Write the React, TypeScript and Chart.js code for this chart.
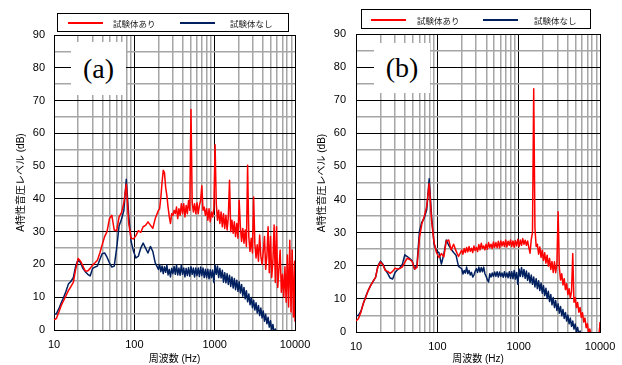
import { useEffect, useRef } from 'react';
import { Chart, registerables } from 'chart.js';

Chart.register(...registerables);

// ---------- frequency bins (Hz) ----------
const FREQ_LOW = [
  10, 10.7, 11.5, 12.3, 13.2, 14.1, 15.1, 16.2, 17.4, 18.6,
  20, 21.4, 22.9, 24.5, 26.3, 28.2, 30.2, 32.4, 34.7, 37.2,
  39.8, 42.7, 45.7, 49, 52.5, 56.2, 60.3, 64.6, 69.2, 74.1,
  79.4, 85.1, 91.2, 97.7, 104.7, 112.2, 120.2, 128.8, 138, 147.9,
  158.5, 169.8, 182,
];
const FREQ_HIGH = [
  199.5, 206.5, 213.8, 221.3, 229.1, 237.1, 245.5, 254.1, 263, 272.3,
  281.8, 291.7, 302, 312.6, 323.6, 335, 346.7, 358.9, 371.5, 384.6,
  398.1, 412.1, 426.6, 441.6, 457.1, 473.2, 489.8, 507, 524.8, 543.3,
  562.3, 582.1, 602.6, 623.7, 645.7, 668.3, 691.8, 716.1, 741.3, 767.4,
  794.3, 822.2, 851.1, 881, 912, 944, 977.2, 1012, 1047, 1084,
  1122, 1161, 1202, 1245, 1288, 1334, 1380, 1429, 1479, 1531,
  1585, 1641, 1698, 1758, 1820, 1884, 1950, 2018, 2089, 2163,
  2239, 2317, 2399, 2483, 2570, 2661, 2754, 2851, 2951, 3055,
  3162, 3273, 3388, 3508, 3631, 3758, 3890, 4027, 4169, 4315,
  4467, 4624, 4786, 4955, 5129, 5309, 5495, 5689, 5888, 6095,
  6310, 6531, 6761, 6998, 7244, 7499, 7762, 8035, 8318, 8610,
  8913, 9226, 9550, 9886, 10000,
];

// ---------- (a) ----------
const A_RED_LOW = [
  3.1, 3.5, 5.5, 7.5, 9, 10.5, 12, 13.2, 14.5, 18.5,
  21.8, 21, 19.5, 18, 18, 18.8, 19.8, 20.5, 21.3, 23.5,
  26, 28.5, 30, 34, 35, 30.5, 30.3, 34.5, 35.8, 38.8,
  44.5, 32.5, 28, 27.8, 28.8, 30.3, 29.8, 31.5, 31.9, 33,
  32, 31, 34,
];
const A_RED_HIGH = [
  36.5, 37, 40.5, 45, 48.7, 48, 43.5, 41, 37.5, 34.5,
  32.5, 35.5, 35, 36.5, 35.5, 37.5, 34, 37, 35, 38.5,
  35.5, 38.5, 34.5, 38, 35.5, 39.5, 36.5, 67.3, 39, 36,
  38.5, 35.5, 38.8, 35.5, 38, 39.5, 44, 36.5, 37.5, 35,
  37, 33.5, 37, 33, 36, 34.5, 37, 56.5, 38.5, 33.5,
  36.5, 32.5, 36, 31.5, 35.5, 31, 35, 30.5, 34.5, 45.7,
  30, 33.5, 29.5, 33, 28.5, 32.5, 28, 39.6, 31.5, 27,
  31, 26.5, 30.5, 25.5, 50.3, 28.5, 24, 28, 23.5, 40.6,
  26.5, 22, 26, 21, 29, 22.5, 20, 24, 28.5, 18.5,
  22.5, 31.5, 17.5, 28.5, 16, 21, 32, 14.5, 31.5, 13,
  18.5, 24.4, 11.5, 17, 10, 19.3, 8.5, 22.9, 7, 27.4,
  5.5, 24.4, 4, 21, 2.5,
];
const A_NAVY_LOW = [
  4.9, 4.9, 6.5, 8.3, 10, 11.8, 14, 14.8, 16, 19.5,
  21.5, 20.5, 18.8, 17.8, 17, 16.5, 18.8, 19.2, 19.5, 21.5,
  23.3, 23.5, 22.2, 20.5, 19.2, 19.5, 25, 31.8, 33.8, 36.5,
  46, 35, 27, 24, 22, 22.5, 25, 26.5, 25, 23.5,
  25.5, 24, 20.5,
];
const A_NAVY_HIGH = [
  18.5, 20, 17.8, 19.5, 17.2, 19.3, 17.6, 19.8, 16.8, 18.5,
  16.2, 18.8, 17.2, 19.4, 17, 19.8, 16.8, 18.9, 16.7, 19.8,
  17, 18.9, 16.2, 18.8, 16.6, 19, 16.4, 19.3, 17, 18.9,
  16.2, 18.9, 16.6, 18.9, 16.3, 19.2, 16.6, 18.9, 16, 18.5,
  16, 18.5, 15.6, 18.4, 16, 18.3, 14.5, 19.8, 17, 19.5,
  16, 18.8, 15.9, 18.2, 14.6, 17.5, 14.4, 17.2, 13.9, 16.7,
  13.3, 16.2, 12.8, 15.7, 12.3, 15.2, 11.8, 14.7, 11.3, 13.9,
  10.3, 13, 9.5, 12, 8.6, 11, 7.7, 9.9, 6.8, 9.1,
  6.1, 8.3, 5.2, 7.5, 4.4, 6.7, 3.7, 5.8, 2.7, 4.8,
  1.9, 3.9, 0.9, 2.8, 0, 1.7, -1, 0.3, -2, -3,
  -4, -5, -6, -7, -8, -9, -10, -10, -10, -10,
  -10, -10, -10, -10, -10,
];

// ---------- (b) ----------
const B_RED_LOW = [
  3.3, 4, 6, 8.6, 10.5, 12.5, 14, 15.3, 16.5, 19.8,
  21.1, 20.3, 18.6, 18.3, 17.7, 18.3, 19.3, 19, 19.2, 19.7,
  21, 22.3, 21.9, 21.3, 19, 19.5, 28.5, 32.7, 35, 38,
  44.8, 33.5, 27, 24, 22.5, 23.7, 22.7, 27.5, 27.8, 24.8,
  26.5, 24.5, 22.8,
];
const B_RED_HIGH = [
  24.7, 23.5, 25.2, 24, 25.5, 24.2, 25.8, 24.4, 25.3, 24,
  26, 24.6, 25.5, 24.3, 26.4, 24.8, 26.8, 25.2, 26, 24.8,
  26.5, 25, 27, 25.5, 26.5, 25.2, 27.2, 25.6, 27, 25.5,
  27.4, 25.4, 27.5, 26, 27.3, 25.8, 27.8, 25.7, 27.4, 26.2,
  27.8, 25.8, 27.5, 25.6, 27.6, 26, 28, 25.8, 27.8, 26.2,
  28.2, 26.5, 27.7, 26.2, 27.5, 25.5, 23.8, 28, 30, 73.5,
  31.5, 25.8, 26.5, 23.5, 25.7, 22.5, 24.7, 21.6, 23.9, 20.8,
  23.2, 19.9, 22.2, 18.9, 21.3, 18, 21.2, 17.9, 20.5, 36.3,
  19.5, 15.7, 17.6, 14.2, 16.1, 12.8, 14.6, 11.3, 13.1, 10.2,
  12.2, 23.7, 9, 10.4, 7.4, 8.9, 6, 7.4, 4.4, 5.8,
  3, 4.2, 1.3, 2.5, -0.3, 0.9, -1, -2, -3, -3,
  -3, -3, -2, 1, 3,
];
const B_NAVY_LOW = [
  5, 5, 6.3, 8.6, 10.8, 12.5, 14, 15.3, 16.5, 20,
  21.4, 20.5, 18.8, 17.7, 16.3, 16, 18, 18.8, 19.4, 20.5,
  23.3, 22.8, 22.2, 21.5, 19, 20.3, 30.5, 33.2, 34.5, 37,
  46.3, 34.7, 26.5, 24.5, 24, 20.5, 23.5, 27.8, 26.2, 25,
  24, 23.2, 19.8,
];
const B_NAVY_HIGH = [
  19.1, 17.5, 18.6, 17.8, 19.6, 17.6, 18.6, 17.2, 18, 16.6,
  17.2, 18.3, 19.1, 18, 19.6, 18.1, 19.5, 18.2, 19.6, 17.6,
  16.8, 15.8, 15.1, 17.6, 16.6, 17.8, 16.8, 18.1, 16.8, 18.2,
  16.6, 18.1, 16.8, 17.8, 16.5, 18.2, 16.6, 17.8, 16.4, 18.2,
  16.2, 18.2, 16.1, 18.6, 16, 18, 14.4, 19, 16.8, 19.5,
  16.7, 18.9, 16.2, 18.4, 15.6, 17.8, 14.9, 17.2, 14.4, 16.6,
  13.6, 16.1, 13.1, 15.5, 12.5, 14.8, 11.7, 14, 11, 13.2,
  10.1, 12.3, 9.2, 11.3, 8.2, 10.4, 7.4, 9.5, 6.5, 8.5,
  5.7, 7.7, 4.9, 6.8, 4.1, 5.9, 3.3, 5.1, 2.5, 4.2,
  1.7, 3.3, 0.9, 2.4, 0.1, 1.4, -0.8, 0.3, -2, -3,
  -4, -5, -6, -7, -8, -9, -10, -10, -10, -10,
  -10, -10, -10, -10, -10,
];

// ---------- axes ----------
const X_TICKS = [
  10, 20, 30, 40, 50, 60, 70, 80, 90,
  100, 200, 300, 400, 500, 600, 700, 800, 900,
  1000, 2000, 3000, 4000, 5000, 6000, 7000, 8000, 9000,
  10000,
];
const X_LABELS = [10, 100, 1000, 10000];
const Y_MIN = 0;
const Y_MAX = 90;
const Y_STEP = 5;
const Y_LABEL_STEP = 10;

const LEGEND_LABELS = ['試験体あり', '試験体なし'];
const X_TITLE = '周波数 (Hz)';
const Y_TITLE = 'A特性音圧レベル (dB)';

const RED = '#ff0000';
const NAVY = '#002060';
const MINOR = '#a6a6a6';
const FONT = "'Liberation Sans', Arial, 'Noto Sans CJK JP', sans-serif";
const JP_FONT = "'Noto Sans CJK JP', 'Liberation Sans', sans-serif";

type Geom = {
  width: number;
  height: number;
  padTop: number;
  padRight: number;
  yWidth: number;
  xHeight: number;
  yTitlePad: number;
  yTickPad: number;
  xTickPad: number;
};

const GEOM_A: Geom = { width: 311, height: 365, padTop: 35, padRight: 16, yWidth: 54, xHeight: 35, yTitlePad: 15, yTickPad: 9, xTickPad: 8 };
const GEOM_B: Geom = { width: 311, height: 365, padTop: 34, padRight: 22, yWidth: 45, xHeight: 33, yTitlePad: 5, yTickPad: 10, xTickPad: 8 };

function points(low: number[], high: number[]) {
  const f = FREQ_LOW.concat(FREQ_HIGH);
  const v = low.concat(high);
  return f.map((x, i) => ({ x, y: v[i] }));
}

function build(canvas: HTMLCanvasElement, g: Geom, red: { x: number; y: number }[], navy: { x: number; y: number }[]) {
  const isMajorX = (v: number) => X_LABELS.includes(v);
  return new Chart(canvas, {
    type: 'line',
    data: {
      datasets: [
        { label: LEGEND_LABELS[0], data: red, borderColor: RED, backgroundColor: RED, borderWidth: 1.5, pointRadius: 0, tension: 0, fill: false, borderJoinStyle: 'round' },
        { label: LEGEND_LABELS[1], data: navy, borderColor: NAVY, backgroundColor: NAVY, borderWidth: 1.5, pointRadius: 0, tension: 0, fill: false, borderJoinStyle: 'round' },
      ],
    },
    options: {
      animation: false,
      responsive: false,
      maintainAspectRatio: false,
      events: [],
      layout: { padding: { left: 0, top: g.padTop, right: g.padRight, bottom: 0 } },
      plugins: { legend: { display: false }, tooltip: { enabled: false } },
      scales: {
        x: {
          type: 'logarithmic',
          min: 10,
          max: 10000,
          afterBuildTicks: (s: any) => {
            s.ticks = X_TICKS.map((v) => ({ value: v }));
          },
          afterFit: (s: any) => {
            s.height = g.xHeight;
            s.paddingLeft = 0;
            s.paddingRight = 0;
          },
          ticks: {
            autoSkip: false,
            maxRotation: 0,
            minRotation: 0,
            padding: g.xTickPad,
            color: '#000',
            font: { family: FONT, size: 11 },
            callback: (v: any) => (isMajorX(Number(v)) ? String(v) : ''),
          },
          grid: {
            drawTicks: false,
            color: (c: any) => (isMajorX(c.tick?.value) ? '#000' : MINOR),
            lineWidth: (c: any) => (isMajorX(c.tick?.value) ? 1 : 1.5),
          },
          border: { display: true, color: '#000', width: 1 },
          title: { display: true, text: X_TITLE, color: '#000', font: { family: FONT, size: 10 }, padding: { top: 0, bottom: 0 } },
        },
        y: {
          min: Y_MIN,
          max: Y_MAX,
          afterFit: (s: any) => {
            s.width = g.yWidth;
            s.paddingTop = 0;
            s.paddingBottom = 0;
          },
          ticks: {
            stepSize: Y_STEP,
            autoSkip: false,
            padding: g.yTickPad,
            color: '#000',
            font: { family: FONT, size: 11 },
            callback: (v: any) => (Number(v) % Y_LABEL_STEP === 0 ? String(v) : ''),
          },
          grid: {
            drawTicks: false,
            color: (c: any) => (c.tick?.value % Y_LABEL_STEP === 0 ? '#000' : MINOR),
            lineWidth: (c: any) => (c.tick?.value % Y_LABEL_STEP === 0 ? 1 : 1.5),
          },
          border: { display: true, color: '#000', width: 1 },
          title: { display: true, text: Y_TITLE, color: '#000', font: { family: FONT, size: 10 }, padding: { top: g.yTitlePad, bottom: 0 } },
        },
      },
    } as any,
  });
}

type LegendPos = { left: number; top: number; w: number; h: number; lineY: number; r1: number; t1: number; n1: number; t2: number };

function Legend({ p }: { p: LegendPos }) {
  const text = (left: number, s: string) => (
    <div style={{ position: 'absolute', left, top: p.lineY - 6, height: 12, lineHeight: '12px', fontSize: 8.5, fontFamily: JP_FONT, color: '#222', whiteSpace: 'nowrap' }}>{s}</div>
  );
  return (
    <>
      <div style={{ position: 'absolute', left: p.left, top: p.top, width: p.w, height: p.h, boxSizing: 'border-box', border: '1px solid #000', background: '#fff' }} />
      <div style={{ position: 'absolute', left: p.r1, top: p.lineY - 1, width: 35, height: 2, background: RED }} />
      {text(p.t1, LEGEND_LABELS[0])}
      <div style={{ position: 'absolute', left: p.n1, top: p.lineY - 1, width: 35, height: 2, background: NAVY }} />
      {text(p.t2, LEGEND_LABELS[1])}
    </>
  );
}

function PanelLabel({ left, top, w, h, text }: { left: number; top: number; w: number; h: number; text: string }) {
  return (
    <div style={{ position: 'absolute', left, top, width: w, height: h, background: '#fff', display: 'flex', alignItems: 'center', justifyContent: 'center', fontFamily: "'Liberation Serif', 'Times New Roman', serif", fontSize: 28, color: '#000' }}>
      {text}
    </div>
  );
}

export default function App() {
  const refA = useRef<HTMLCanvasElement>(null);
  const refB = useRef<HTMLCanvasElement>(null);

  useEffect(() => {
    const a = build(refA.current!, GEOM_A, points(A_RED_LOW, A_RED_HIGH), points(A_NAVY_LOW, A_NAVY_HIGH));
    const b = build(refB.current!, GEOM_B, points(B_RED_LOW, B_RED_HIGH), points(B_NAVY_LOW, B_NAVY_HIGH));
    return () => {
      a.destroy();
      b.destroy();
    };
  }, []);

  return (
    <div style={{ position: 'absolute', left: 0, top: 0, width: 622, height: 365, background: '#fff', overflow: 'hidden' }}>
      <canvas ref={refA} width={311} height={365} style={{ position: 'absolute', left: 0, top: 0, width: 311, height: 365 }} />
      <canvas ref={refB} width={311} height={365} style={{ position: 'absolute', left: 311, top: 0, width: 311, height: 365 }} />
      <Legend p={{ left: 57, top: 13, w: 232, h: 19, lineY: 22.5, r1: 68, t1: 113, n1: 180, t2: 230 }} />
      <Legend p={{ left: 361, top: 9, w: 230, h: 20, lineY: 19.5, r1: 371, t1: 417, n1: 483, t2: 534 }} />
      <PanelLabel left={71} top={42} w={55} h={53} text="(a)" />
      <PanelLabel left={374} top={43} w={56} h={50} text="(b)" />
    </div>
  );
}
